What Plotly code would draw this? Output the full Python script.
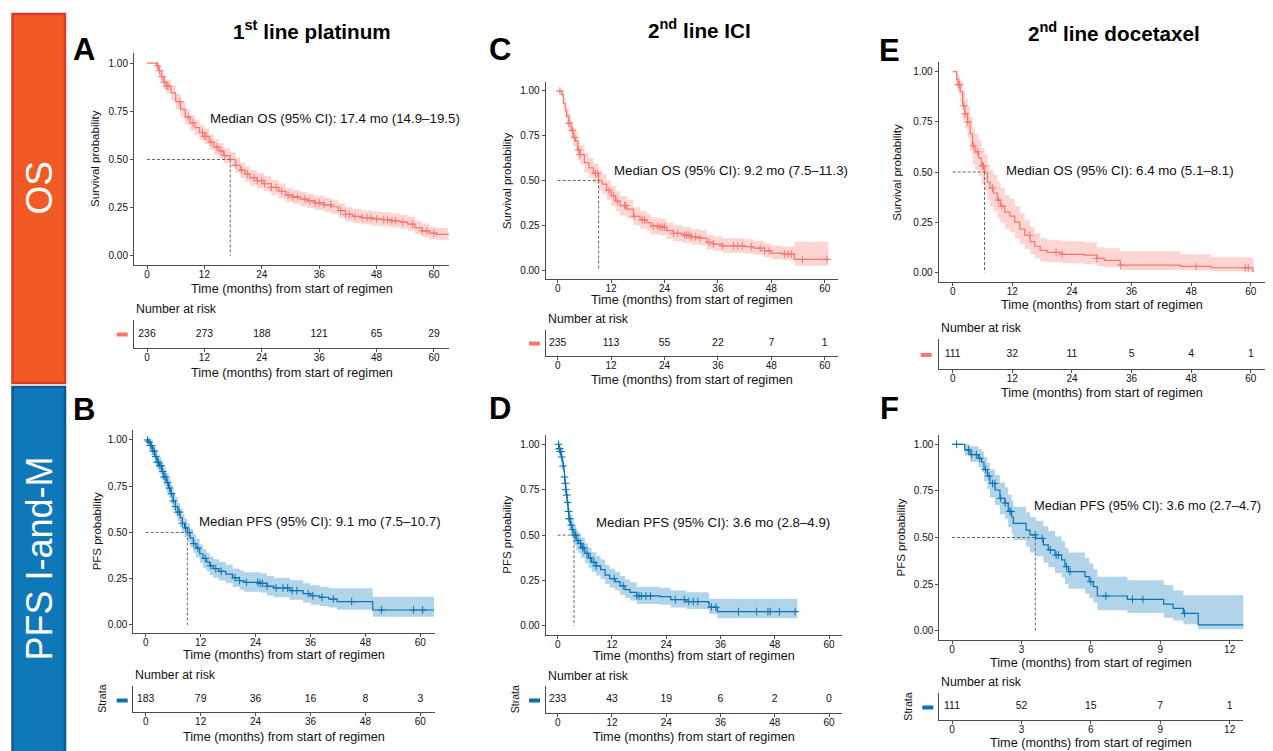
import numpy as np
import plotly.graph_objects as go

# ======================= DATA =======================
risk_times_60 = [0, 12, 24, 36, 48, 60]
risk_times_12 = [0, 3, 6, 9, 12]
ticks_60 = [0, 12, 24, 36, 48, 60]
ticks_12 = [0, 3, 6, 9, 12]
prob_ticks = [0, 0.25, 0.5, 0.75, 1.0]
prob_labels = ["0.00", "0.25", "0.50", "0.75", "1.00"]

# ---- A: OS, 1st line platinum ----
A_time = [0, 1.5, 2.0, 2.5, 3.0, 3.5, 4.0, 5.0, 6.0, 7.0, 8.0, 9.0, 10.0, 11.0, 12.0, 13.0, 14.0, 15.0,
          16.0, 17.4, 18.5, 19.5, 20.5, 21.5, 23.0, 24.5, 26.0, 27.5, 29.0, 30.5, 32.0, 33.5, 35.0, 37.0,
          38.5, 40.0, 41.5, 43.0, 45.0, 47.0, 49.0, 51.0, 53.0, 54.5, 56.0, 57.5, 59.0, 60.5, 63.0]
A_surv = [1.0, 1.0, 0.985, 0.96, 0.93, 0.90, 0.88, 0.845, 0.80, 0.76, 0.72, 0.69, 0.665, 0.64, 0.62, 0.59,
          0.565, 0.545, 0.52, 0.50, 0.47, 0.445, 0.425, 0.405, 0.39, 0.375, 0.355, 0.335, 0.315, 0.305, 0.295,
          0.285, 0.275, 0.265, 0.255, 0.235, 0.215, 0.205, 0.198, 0.192, 0.188, 0.182, 0.175, 0.165, 0.145,
          0.13, 0.118, 0.112, 0.11]
A_low = [1.0, 1.0, 0.97, 0.935, 0.90, 0.865, 0.845, 0.805, 0.76, 0.72, 0.68, 0.65, 0.625, 0.60, 0.58, 0.55,
         0.525, 0.505, 0.48, 0.46, 0.43, 0.405, 0.385, 0.365, 0.35, 0.335, 0.315, 0.297, 0.278, 0.268, 0.258,
         0.248, 0.238, 0.228, 0.218, 0.198, 0.178, 0.17, 0.163, 0.157, 0.153, 0.147, 0.14, 0.13, 0.112,
         0.098, 0.087, 0.082, 0.078]
A_high = [1.0, 1.0, 1.0, 0.985, 0.96, 0.935, 0.915, 0.885, 0.84, 0.80, 0.76, 0.73, 0.705, 0.68, 0.66, 0.63,
          0.605, 0.585, 0.56, 0.54, 0.51, 0.485, 0.465, 0.445, 0.43, 0.415, 0.395, 0.375, 0.353, 0.343, 0.333,
          0.323, 0.313, 0.303, 0.293, 0.273, 0.253, 0.243, 0.236, 0.23, 0.226, 0.22, 0.213, 0.203, 0.183,
          0.168, 0.153, 0.146, 0.143]
A_censor = [2.2, 2.6, 3.1, 3.6, 4.1, 4.4, 6.9, 8.6, 9.6, 11.6, 12.0, 12.4, 13.4, 14.6, 15.5, 16.3, 18.6, 19.8,
            21.0, 22.4, 23.1, 24.0, 24.6, 26.0, 27.0, 28.2, 29.5, 30.5, 31.5, 33.0, 34.0, 35.2, 36.0, 37.0,
            38.4, 40.5, 41.5, 42.3, 43.5, 45.0, 46.0, 46.8, 48.0, 49.5, 50.3, 51.2, 52.0, 53.5, 55.5, 57.5,
            58.5, 60.0]
A_median = 17.4
A_risk = [236, 273, 188, 121, 65, 29]

# ---- C: OS, 2nd line ICI ----
C_time = [0, 0.5, 0.9, 1.3, 1.7, 2.0, 2.5, 3.0, 3.5, 4.0, 4.5, 5.0, 6.0, 7.0, 8.0, 9.2, 10.0, 11.0, 12.0,
          13.0, 14.0, 15.5, 17.0, 18.5, 20.0, 21.0, 23.0, 24.5, 26.0, 28.0, 30.0, 32.0, 33.5, 35.0, 37.0,
          42.0, 44.0, 46.5, 48.0, 50.5, 53.2, 60.8]
C_surv = [1.0, 1.0, 0.98, 0.93, 0.89, 0.86, 0.82, 0.78, 0.74, 0.72, 0.67, 0.645, 0.60, 0.57, 0.54, 0.50,
          0.48, 0.445, 0.415, 0.385, 0.36, 0.34, 0.30, 0.28, 0.265, 0.245, 0.24, 0.22, 0.205, 0.195, 0.185,
          0.178, 0.155, 0.145, 0.135, 0.13, 0.122, 0.108, 0.094, 0.089, 0.06, 0.06]
C_low = [1.0, 1.0, 0.96, 0.90, 0.85, 0.815, 0.77, 0.73, 0.69, 0.665, 0.615, 0.59, 0.545, 0.515, 0.485, 0.445,
         0.425, 0.39, 0.36, 0.33, 0.305, 0.287, 0.25, 0.23, 0.217, 0.198, 0.193, 0.175, 0.162, 0.152, 0.143,
         0.137, 0.115, 0.106, 0.097, 0.092, 0.085, 0.072, 0.06, 0.056, 0.024, 0.024]
C_high = [1.0, 1.0, 1.0, 0.96, 0.93, 0.905, 0.87, 0.83, 0.79, 0.775, 0.725, 0.70, 0.655, 0.625, 0.595, 0.555,
          0.535, 0.50, 0.47, 0.44, 0.415, 0.393, 0.35, 0.33, 0.313, 0.292, 0.287, 0.265, 0.25, 0.24, 0.229,
          0.222, 0.197, 0.187, 0.177, 0.172, 0.163, 0.15, 0.137, 0.132, 0.158, 0.158]
C_censor = [0.5, 2.5, 3.3, 3.8, 4.7, 5.0, 8.5, 9.0, 11.5, 12.5, 13.4, 15.0, 15.3, 17.2, 19.0, 19.5, 21.5,
            22.5, 23.0, 23.5, 24.0, 26.0, 27.0, 28.5, 29.0, 29.5, 30.0, 31.0, 32.0, 34.0, 35.0, 37.0, 39.5,
            40.5, 41.5, 43.5, 45.5, 46.5, 47.5, 51.0, 51.8, 52.5, 55.0, 60.5]
C_median = 9.2
C_risk = [235, 113, 55, 22, 7, 1]

# ---- E: OS, 2nd line docetaxel ----
E_time = [0, 0.3, 0.8, 1.1, 1.5, 2.0, 2.5, 3.0, 3.5, 4.0, 4.5, 5.2, 5.8, 6.4, 7.0, 7.5, 8.2, 9.0, 9.6, 10.5,
          11.5, 12.5, 13.5, 14.5, 15.6, 16.5, 17.6, 19.0, 22.0, 26.5, 29.0, 30.5, 33.7, 45.8, 52.0, 60.4, 60.6]
E_surv = [1.0, 1.0, 0.96, 0.935, 0.90, 0.83, 0.79, 0.75, 0.69, 0.63, 0.60, 0.57, 0.53, 0.50, 0.45, 0.42,
          0.395, 0.36, 0.33, 0.30, 0.28, 0.25, 0.215, 0.185, 0.153, 0.13, 0.11, 0.10, 0.09, 0.086, 0.07, 0.06,
          0.036, 0.03, 0.023, 0.005, 0.005]
E_low = [1.0, 1.0, 0.925, 0.89, 0.845, 0.76, 0.715, 0.67, 0.605, 0.54, 0.51, 0.48, 0.44, 0.41, 0.36, 0.33,
         0.305, 0.27, 0.245, 0.215, 0.20, 0.17, 0.14, 0.115, 0.09, 0.07, 0.055, 0.05, 0.045, 0.04, 0.03, 0.025,
         0.012, 0.01, 0.005, 0.0, 0.0]
E_high = [1.0, 1.0, 0.995, 0.98, 0.955, 0.90, 0.865, 0.83, 0.775, 0.72, 0.69, 0.66, 0.62, 0.59, 0.54, 0.51,
          0.485, 0.45, 0.42, 0.385, 0.365, 0.33, 0.295, 0.26, 0.225, 0.195, 0.17, 0.16, 0.155, 0.15, 0.125,
          0.12, 0.105, 0.09, 0.075, 0.07, 0.07]
E_censor = [1.1, 1.4, 2.2, 2.5, 3.0, 4.2, 5.0, 6.0, 6.2, 8.0, 9.2, 9.9, 15.5, 20.8, 22.0, 29.0, 33.8, 49.0,
            58.9, 59.5]
E_median = 6.4
E_risk = [111, 32, 11, 5, 4, 1]

# ---- B: PFS, 1st line platinum ----
B_time = [0, 0.5, 1.0, 1.5, 2.0, 2.5, 3.0, 3.5, 4.0, 4.5, 5.0, 5.5, 6.0, 6.5, 7.0, 7.5, 8.0, 8.5, 9.1, 9.7,
          10.4, 11.0, 11.8, 12.5, 13.3, 14.0, 14.8, 16.0, 17.5, 19.0, 20.5, 21.5, 25.0, 26.5, 28.0, 31.5,
          34.4, 36.0, 38.0, 40.0, 41.8, 49.6, 63.0]
B_surv = [1.0, 0.99, 0.97, 0.94, 0.91, 0.88, 0.86, 0.83, 0.80, 0.77, 0.74, 0.71, 0.67, 0.64, 0.61, 0.58,
          0.55, 0.525, 0.50, 0.47, 0.44, 0.415, 0.385, 0.36, 0.34, 0.32, 0.305, 0.29, 0.275, 0.255, 0.24,
          0.23, 0.225, 0.21, 0.20, 0.186, 0.17, 0.158, 0.15, 0.14, 0.126, 0.081, 0.081]
B_low = [1.0, 0.975, 0.945, 0.91, 0.875, 0.84, 0.815, 0.785, 0.75, 0.72, 0.69, 0.66, 0.62, 0.59, 0.56, 0.53,
         0.50, 0.475, 0.45, 0.42, 0.39, 0.365, 0.335, 0.31, 0.29, 0.27, 0.255, 0.24, 0.225, 0.205, 0.19, 0.18,
         0.175, 0.16, 0.15, 0.137, 0.122, 0.11, 0.103, 0.094, 0.082, 0.045, 0.045]
B_high = [1.0, 1.0, 0.99, 0.97, 0.945, 0.92, 0.905, 0.875, 0.85, 0.82, 0.79, 0.76, 0.72, 0.69, 0.66, 0.63,
          0.60, 0.575, 0.55, 0.52, 0.49, 0.465, 0.435, 0.41, 0.39, 0.37, 0.355, 0.34, 0.325, 0.305, 0.295,
          0.285, 0.28, 0.265, 0.255, 0.242, 0.226, 0.215, 0.207, 0.198, 0.198, 0.153, 0.153]
B_censor = [0.4, 0.7, 1.0, 1.3, 1.6, 1.9, 2.2, 2.5, 2.8, 3.1, 3.4, 3.7, 4.0, 4.4, 4.8, 5.2, 5.6, 6.0, 6.5,
            7.0, 7.4, 8.0, 8.7, 9.5, 10.5, 11.4, 13.0, 14.2, 15.3, 16.5, 19.5, 20.5, 22.0, 24.5, 25.0, 25.5,
            26.5, 28.5, 30.0, 31.0, 32.0, 33.0, 35.5, 36.5, 38.5, 41.0, 45.0, 51.5, 58.5, 60.5]
B_median = 9.1
B_risk = [183, 79, 36, 16, 8, 3]

# ---- D: PFS, 2nd line ICI ----
D_time = [0, 0.15, 0.3, 0.5, 0.8, 1.0, 1.2, 1.4, 1.5, 1.6, 1.75, 1.9, 2.1, 2.3, 2.5, 2.8, 3.2, 3.6, 4.1,
          4.6, 5.2, 6.0, 6.8, 7.5, 8.5, 9.5, 10.5, 11.5, 12.7, 13.8, 14.9, 16.0, 17.5, 22.6, 25.0, 28.5,
          33.3, 33.5, 35.3, 53.0]
D_surv = [1.0, 1.0, 0.975, 0.96, 0.93, 0.905, 0.88, 0.855, 0.82, 0.785, 0.75, 0.72, 0.68, 0.63, 0.59,
          0.555, 0.53, 0.50, 0.47, 0.455, 0.43, 0.40, 0.375, 0.35, 0.33, 0.31, 0.28, 0.26, 0.244, 0.22,
          0.20, 0.185, 0.165, 0.161, 0.145, 0.134, 0.128, 0.103, 0.079, 0.079]
D_low = [1.0, 1.0, 0.955, 0.935, 0.90, 0.87, 0.84, 0.81, 0.775, 0.735, 0.70, 0.665, 0.625, 0.575, 0.535,
         0.50, 0.475, 0.445, 0.415, 0.40, 0.375, 0.345, 0.32, 0.297, 0.277, 0.257, 0.23, 0.21, 0.195, 0.172,
         0.153, 0.14, 0.12, 0.116, 0.102, 0.093, 0.087, 0.066, 0.042, 0.042]
D_high = [1.0, 1.0, 0.995, 0.985, 0.96, 0.94, 0.92, 0.90, 0.865, 0.835, 0.80, 0.775, 0.735, 0.685, 0.645,
          0.61, 0.585, 0.555, 0.525, 0.51, 0.485, 0.455, 0.43, 0.405, 0.385, 0.365, 0.335, 0.315, 0.298,
          0.275, 0.255, 0.24, 0.215, 0.21, 0.195, 0.185, 0.18, 0.15, 0.149, 0.149]
D_censor = [0.2, 0.35, 0.45, 0.55, 0.7, 0.9, 1.2, 1.5, 1.7, 1.8, 2.0, 2.2, 2.4, 2.5, 2.7, 3.0, 3.3, 3.8,
            4.0, 4.5, 5.0, 5.5, 5.8, 6.5, 7.2, 8.0, 8.5, 12.5, 14.5, 17.5, 18.0, 18.5, 19.5, 20.5, 26.0,
            28.0, 29.0, 30.0, 31.0, 34.0, 35.0, 40.0, 44.0, 46.5, 47.0, 49.0, 52.5]
D_median = 3.6
D_risk = [233, 43, 19, 6, 2, 0]

# ---- F: PFS, 2nd line docetaxel ----
F_time = [0, 0.55, 0.78, 1.14, 1.28, 1.38, 1.53, 1.64, 1.86, 2.07, 2.29, 2.43, 2.58, 2.65, 3.2, 3.37,
          3.62, 3.95, 4.16, 4.45, 4.74, 4.88, 5.03, 5.75, 5.93, 6.11, 6.28, 7.58, 9.15, 9.56, 10.0, 10.64,
          12.62]
F_surv = [1.0, 0.97, 0.945, 0.925, 0.905, 0.865, 0.83, 0.79, 0.755, 0.71, 0.685, 0.64, 0.61, 0.576, 0.54,
          0.514, 0.495, 0.46, 0.433, 0.406, 0.38, 0.344, 0.317, 0.29, 0.263, 0.236, 0.186, 0.168, 0.143,
          0.12, 0.093, 0.031, 0.031]
F_low = [1.0, 0.94, 0.905, 0.875, 0.85, 0.80, 0.76, 0.715, 0.675, 0.625, 0.60, 0.555, 0.52, 0.485, 0.45,
         0.42, 0.40, 0.365, 0.34, 0.31, 0.285, 0.25, 0.225, 0.20, 0.175, 0.15, 0.11, 0.095, 0.07, 0.055,
         0.035, 0.008, 0.008]
F_high = [1.0, 1.0, 0.99, 0.975, 0.96, 0.93, 0.90, 0.865, 0.835, 0.795, 0.77, 0.73, 0.70, 0.665, 0.635,
          0.61, 0.59, 0.56, 0.535, 0.505, 0.48, 0.445, 0.42, 0.39, 0.36, 0.33, 0.29, 0.27, 0.245, 0.215,
          0.19, 0.19, 0.19]
F_censor = [0.2, 0.72, 0.85, 1.05, 1.2, 1.45, 1.6, 1.75, 1.85, 2.1, 2.3, 2.5, 2.55, 3.6, 3.9, 4.25, 4.5,
            4.6, 4.95, 5.1, 6.0, 6.65, 7.8, 8.25, 10.05]
F_median = 3.6
F_risk = [111, 52, 15, 7, 1]

# ======================= STYLE / LAYOUT =======================
# The page body has an 8px margin, so the figure is drawn 8px smaller and
# all reference pixel positions are shifted by that margin.
OFF = 8
W, H = 1273 - OFF, 751 - OFF
FONT = "Liberation Sans, Arial, Helvetica, sans-serif"
RED, RED_BAND = "#F8766D", "rgba(248,118,109,0.30)"
BLUE, BLUE_BAND = "#0A72B4", "rgba(0,114,181,0.30)"
AXC = "#4d4d4d"
TXT = "#111111"


def fx(px):
    return (px - OFF) / W


def fy(py):
    return 1 - (py - OFF) / H


panels = [
    dict(name="A", t=A_time, s=A_surv, lo=A_low, hi=A_high, cens=A_censor, med=A_median,
         risk=A_risk, rt=risk_times_60, ticks=ticks_60, col=RED, band=RED_BAND, ylab="Survival probability",
         mtxt="Median OS (95% CI): 17.4 mo (14.9\u201319.5)", msize=13.3,
         plot=(134, 53, 449, 265), xr=[-2.72, 63.14], yr=[-0.047, 1.052],
         xt_y=289, yt_x=95, med_xy=(208.3, 118),
         nar=(134, 309), tab=(134, 320, 449, 348), tab_xt=373, strata=None, key=(116.7, 127.7, 334.5)),
    dict(name="C", t=C_time, s=C_surv, lo=C_low, hi=C_high, cens=C_censor, med=C_median,
         risk=C_risk, rt=risk_times_60, ticks=ticks_60, col=RED, band=RED_BAND, ylab="Survival probability",
         mtxt="Median OS (95% CI): 9.2 mo (7.5\u201311.3)", msize=13.3,
         plot=(545.7, 82, 837.7, 279), xr=[-2.7, 62.92], yr=[-0.05, 1.05],
         xt_y=300, yt_x=506.7, med_xy=(611.7, 170.5),
         nar=(545.7, 319), tab=(545.7, 330, 837.7, 356), tab_xt=379.5, strata=None, key=(529, 540, 343.5)),
    dict(name="E", t=E_time, s=E_surv, lo=E_low, hi=E_high, cens=E_censor, med=E_median,
         risk=E_risk, rt=risk_times_60, ticks=ticks_60, col=RED, band=RED_BAND, ylab="Survival probability",
         mtxt="Median OS (95% CI): 6.4 mo (5.1\u20138.1)", msize=13.3,
         plot=(938.7, 62, 1265.7, 282), xr=[-2.82, 63.0], yr=[-0.048, 1.048],
         xt_y=305, yt_x=896.7, med_xy=(1004.3, 170.5),
         nar=(938.7, 328), tab=(938.7, 339, 1265.7, 369), tab_xt=393, strata=None, key=(920.7, 931.7, 355)),
    dict(name="B", t=B_time, s=B_surv, lo=B_low, hi=B_high, cens=B_censor, med=B_median,
         risk=B_risk, rt=risk_times_60, ticks=ticks_60, col=BLUE, band=BLUE_BAND, ylab="PFS probability",
         mtxt="Median PFS (95% CI): 9.1 mo (7.5\u201310.7)", msize=13.3,
         plot=(133.3, 430, 435, 633.3), xr=[-2.71, 63.2], yr=[-0.045, 1.054],
         xt_y=655, yt_x=96.7, med_xy=(196.7, 521),
         nar=(133.3, 675), tab=(133.3, 685.7, 435, 712.3), tab_xt=736.7, strata=101.7, key=(116.7, 127.7, 700.5)),
    dict(name="D", t=D_time, s=D_surv, lo=D_low, hi=D_high, cens=D_censor, med=D_median,
         risk=D_risk, rt=risk_times_60, ticks=ticks_60, col=BLUE, band=BLUE_BAND, ylab="PFS probability",
         mtxt="Median PFS (95% CI): 3.6 mo (2.8\u20134.9)", msize=13.3,
         plot=(545.7, 435, 842.3, 635), xr=[-2.65, 62.94], yr=[-0.05, 1.051],
         xt_y=655.5, yt_x=506.7, med_xy=(594, 522.3),
         nar=(545.7, 675.7), tab=(545.7, 686, 842.3, 712.7), tab_xt=737, strata=515, key=(529, 540, 700.5)),
    dict(name="F", t=F_time, s=F_surv, lo=F_low, hi=F_high, cens=F_censor, med=F_median,
         risk=F_risk, rt=risk_times_12, ticks=ticks_12, col=BLUE, band=BLUE_BAND, ylab="PFS probability",
         mtxt="Median PFS (95% CI): 3.6 mo (2.7\u20134.7)", msize=12.9,
         plot=(939.3, 435, 1243.3, 640), xr=[-0.55, 12.59], yr=[-0.05, 1.05],
         xt_y=662.7, yt_x=900, med_xy=(1031.5, 505.7),
         nar=(939.3, 682.3), tab=(939.3, 692.7, 1243.3, 720), tab_xt=743.3, strata=908.3, key=(922.3, 933.3, 707.5)),
]

fig = go.Figure()
annotations = []
shapes = []
layout_axes = {}

for i, p in enumerate(panels):
    ka = 2 * i + 1  # KM axes index
    kt = 2 * i + 2  # risk table axes index
    xa, ya = f"x{ka}", f"y{ka}"
    xt, yt = f"x{kt}", f"y{kt}"

    # ---- KM confidence band ----
    fig.add_trace(go.Scatter(x=p["t"], y=p["hi"], mode="lines", line=dict(width=0, shape="hv", color=p["band"]),
                             hoverinfo="skip", showlegend=False, xaxis=xa, yaxis=ya))
    fig.add_trace(go.Scatter(x=p["t"], y=p["lo"], mode="lines", line=dict(width=0, shape="hv", color=p["band"]),
                             fill="tonexty", fillcolor=p["band"], hoverinfo="skip", showlegend=False,
                             xaxis=xa, yaxis=ya))
    # ---- KM curve ----
    fig.add_trace(go.Scatter(x=p["t"], y=p["s"], mode="lines", line=dict(width=1.2, shape="hv", color=p["col"]),
                             showlegend=False, xaxis=xa, yaxis=ya))
    # ---- censor marks (y looked up on the step function) ----
    t_arr = np.array(p["t"])
    s_arr = np.array(p["s"])
    idx = np.clip(np.searchsorted(t_arr, np.array(p["cens"]), side="right") - 1, 0, len(s_arr) - 1)
    fig.add_trace(go.Scatter(x=p["cens"], y=s_arr[idx], mode="markers",
                             marker=dict(symbol="cross-thin", size=5.5, line=dict(width=1.0, color=p["col"])),
                             showlegend=False, xaxis=xa, yaxis=ya))
    # ---- median lines ----
    fig.add_trace(go.Scatter(x=[0, p["med"]], y=[0.5, 0.5], mode="lines",
                             line=dict(width=1, color="#666666", dash="3px,2px"),
                             showlegend=False, xaxis=xa, yaxis=ya))
    fig.add_trace(go.Scatter(x=[p["med"], p["med"]], y=[0.5, 0], mode="lines",
                             line=dict(width=1, color="#666666", dash="3px,2px"),
                             showlegend=False, xaxis=xa, yaxis=ya))
    # ---- risk table numbers ----
    fig.add_trace(go.Scatter(x=p["rt"], y=[0] * len(p["rt"]), mode="text",
                             text=[str(v) for v in p["risk"]], textposition="middle center",
                             textfont=dict(family=FONT, size=10.4, color=TXT),
                             showlegend=False, xaxis=xt, yaxis=yt))

    x0, y0, x1, y1 = p["plot"]
    common_x = dict(showline=True, linecolor=AXC, linewidth=1, ticks="outside", ticklen=3, tickwidth=1,
                    tickcolor=AXC, showgrid=False, zeroline=False, tickvals=p["ticks"],
                    ticktext=[str(v) for v in p["ticks"]], tickfont=dict(family=FONT, size=10, color=TXT),
                    ticklabelstandoff=-3, range=p["xr"], fixedrange=True)
    layout_axes[f"xaxis{ka}"] = dict(domain=[fx(x0), fx(x1)], anchor=ya, **common_x)
    layout_axes[f"yaxis{ka}"] = dict(domain=[fy(y1), fy(y0)], anchor=xa, range=p["yr"], showline=True,
                                     linecolor=AXC, linewidth=1, ticks="outside", ticklen=3, tickwidth=1,
                                     tickcolor=AXC, showgrid=False, zeroline=False, tickvals=prob_ticks,
                                     ticktext=prob_labels, tickfont=dict(family=FONT, size=10, color=TXT),
                                     fixedrange=True)
    tx0, ty0, tx1, ty1 = p["tab"]
    layout_axes[f"xaxis{kt}"] = dict(domain=[fx(tx0), fx(tx1)], anchor=yt, **common_x)
    layout_axes[f"yaxis{kt}"] = dict(domain=[fy(ty1), fy(ty0)], anchor=xt, range=[-0.5, 0.5], showline=True,
                                     linecolor=AXC, linewidth=1, ticks="", showticklabels=False,
                                     showgrid=False, zeroline=False, fixedrange=True)

    # ---- texts ----
    annotations.append(dict(text="Time (months) from start of regimen", x=fx((x0 + x1) / 2), y=fy(p["xt_y"]),
                            xref="paper", yref="paper", showarrow=False, xanchor="center", yanchor="middle",
                            font=dict(family=FONT, size=12.7, color=TXT)))
    annotations.append(dict(text=p["ylab"], x=fx(p["yt_x"]), y=fy((y0 + y1) / 2), textangle=-90,
                            xref="paper", yref="paper", showarrow=False, xanchor="center", yanchor="middle",
                            font=dict(family=FONT, size=11.5, color=TXT)))
    annotations.append(dict(text=p["mtxt"], x=fx(p["med_xy"][0]), y=fy(p["med_xy"][1]),
                            xref="paper", yref="paper", showarrow=False, xanchor="left", yanchor="middle",
                            font=dict(family=FONT, size=p["msize"], color=TXT)))
    annotations.append(dict(text="Number at risk", x=fx(p["nar"][0]), y=fy(p["nar"][1]),
                            xref="paper", yref="paper", showarrow=False, xanchor="left", yanchor="middle",
                            font=dict(family=FONT, size=12.3, color=TXT)))
    annotations.append(dict(text="Time (months) from start of regimen", x=fx((tx0 + tx1) / 2), y=fy(p["tab_xt"]),
                            xref="paper", yref="paper", showarrow=False, xanchor="center", yanchor="middle",
                            font=dict(family=FONT, size=12.7, color=TXT)))
    if p["strata"] is not None:
        annotations.append(dict(text="Strata", x=fx(p["strata"]), y=fy((ty0 + ty1) / 2), textangle=-90,
                                xref="paper", yref="paper", showarrow=False, xanchor="center", yanchor="middle",
                                font=dict(family=FONT, size=10.6, color=TXT)))
    kx0, kx1, ky = p["key"]
    shapes.append(dict(type="rect", xref="paper", yref="paper", x0=fx(kx0), x1=fx(kx1), y0=fy(ky + 2),
                       y1=fy(ky - 2), fillcolor=p["col"], line=dict(width=0)))

# ---- panel letters ----
for letter, cx, cy in [("A", 84, 50), ("C", 500, 49), ("E", 889, 51), ("B", 84, 409), ("D", 500, 408),
                       ("F", 889, 408)]:
    annotations.append(dict(text=f"<b>{letter}</b>", x=fx(cx), y=fy(cy), xref="paper", yref="paper",
                            showarrow=False, xanchor="center", yanchor="middle",
                            font=dict(family=FONT, size=31, color="#000000")))

# ---- column titles ----
for title, cx, cy in [("1<sup>st</sup> line platinum", 311.7, 30), ("2<sup>nd</sup> line ICI", 699.7, 29),
                      ("2<sup>nd</sup> line docetaxel", 1114, 31.5)]:
    annotations.append(dict(text=f"<b>{title}</b>", x=fx(cx), y=fy(cy), xref="paper", yref="paper",
                            showarrow=False, xanchor="center", yanchor="middle",
                            font=dict(family=FONT, size=20.7, color="#000000")))

# ---- side boxes ----
shapes.append(dict(type="rect", xref="paper", yref="paper", x0=fx(12.5), x1=fx(65), y0=fy(383), y1=fy(14),
                   fillcolor="#F15A24", line=dict(color="#D93A2B", width=2.5)))
shapes.append(dict(type="rect", xref="paper", yref="paper", x0=fx(12.5), x1=fx(65), y0=fy(770), y1=fy(387),
                   fillcolor="#0E78B8", line=dict(color="#0A5C8F", width=2.5)))
annotations.append(dict(text="OS", x=fx(38.5), y=fy(188), textangle=-90, xref="paper", yref="paper",
                        showarrow=False, xanchor="center", yanchor="middle",
                        font=dict(family=FONT, size=37, color="white")))
annotations.append(dict(text="PFS I-and-M", x=fx(38.5), y=fy(559), textangle=-90, xref="paper", yref="paper",
                        showarrow=False, xanchor="center", yanchor="middle",
                        font=dict(family=FONT, size=36, color="white")))

fig.update_layout(width=W, height=H, autosize=False, margin=dict(l=0, r=0, t=0, b=0),
                  paper_bgcolor="white", plot_bgcolor="white", showlegend=False,
                  annotations=annotations, shapes=shapes, font=dict(family=FONT), **layout_axes)

fig.write_html("out.html")
